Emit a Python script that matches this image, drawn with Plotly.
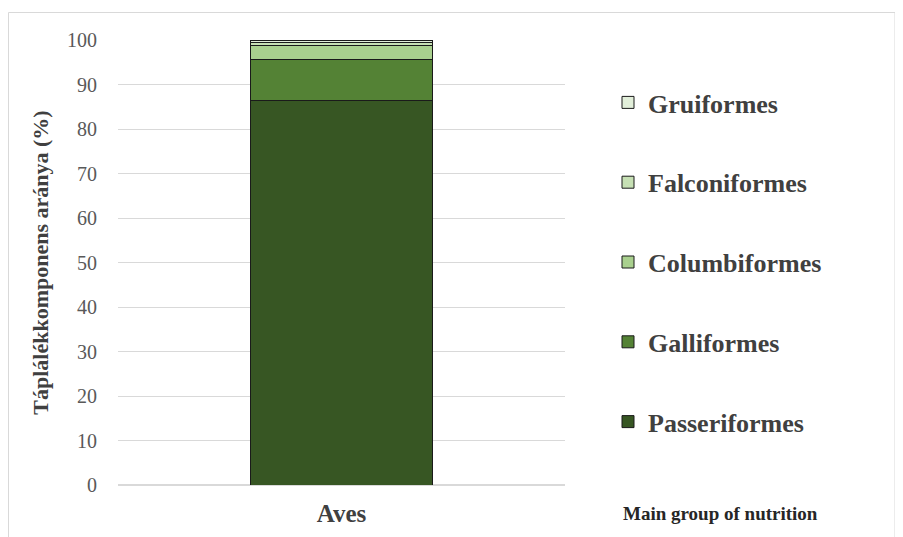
import plotly.graph_objects as go

categories = ["Aves"]
series_names = ["Passeriformes", "Galliformes", "Columbiformes", "Falconiformes", "Gruiformes"]
series_values = [86.3, 9.4, 3.0, 0.7, 0.6]
series_colors = ["#375623", "#548235", "#a9d08e", "#c6e0b4", "#e2efda"]
y_ticks = [0, 10, 20, 30, 40, 50, 60, 70, 80, 90, 100]

fig = go.Figure()
for i, (name, val, col) in enumerate(zip(series_names, series_values, series_colors)):
    fig.add_trace(go.Bar(
        x=categories, y=[val], name="<b>" + name + "</b>", legendgroup=name,
        legendrank=1000 - i,
        marker=dict(color=col, line=dict(color="#1a1a1a", width=1)),
        width=0.405,
    ))

OFF = 8
L, R, T, B = 118 - OFF, 338 + OFF, 40 - OFF, 52 + OFF
PW, PH = 447, 445
fig.update_layout(
    width=903, height=537,
    barmode="stack",
    plot_bgcolor="white", paper_bgcolor="white",
    margin=dict(l=L, r=R, t=T, b=B, autoexpand=False),
    font=dict(family="Liberation Serif", color="#595959"),
    showlegend=True,
    legend=dict(
        x=(648 - OFF - 40 - L) / PW, xanchor="left",
        y=(485 - 79) / PH, yanchor="top",
        traceorder="grouped", tracegroupgap=43,
        font=dict(family="Liberation Serif", size=26, color="#404040"),
        itemclick=False,
    ),
    xaxis=dict(
        range=[-0.5, 0.5], showgrid=False, showline=True, linecolor="#d9d9d9",
        tickfont=dict(family="Liberation Serif", size=25, color="#404040"),
        ticks="outside", ticklen=6, tickcolor="rgba(0,0,0,0)",
        tickprefix="<b>", ticksuffix="</b>",
    ),
    yaxis=dict(
        range=[0, 100], tickvals=y_ticks, showgrid=True, gridcolor="#d9d9d9",
        zeroline=True, zerolinecolor="#d9d9d9",
        ticks="outside", ticklen=16, tickcolor="rgba(0,0,0,0)",
        tickfont=dict(family="Liberation Serif", size=20, color="#595959"),
        title=dict(text="<b>Táplálékkomponens aránya (%)</b>", standoff=12,
                   font=dict(family="Liberation Serif", size=22, color="#404040")),
    ),
    annotations=[dict(
        text="<b>Main group of nutrition</b>", xref="paper", yref="paper",
        x=(720 - OFF - L) / PW, y=(485 - 513) / PH, xanchor="center", yanchor="middle",
        showarrow=False, font=dict(family="Liberation Serif", size=19, color="#262626"),
    )],
    shapes=[dict(
        type="rect", xref="paper", yref="paper",
        x0=(8.5 - OFF - L) / PW, x1=(895 - OFF - L) / PW,
        y0=(485 - 545) / PH, y1=(485 - 12.5) / PH,
        line=dict(color="#d9d9d9", width=1), fillcolor="rgba(0,0,0,0)", layer="below",
    )],
)

fig.write_html("out.html")
